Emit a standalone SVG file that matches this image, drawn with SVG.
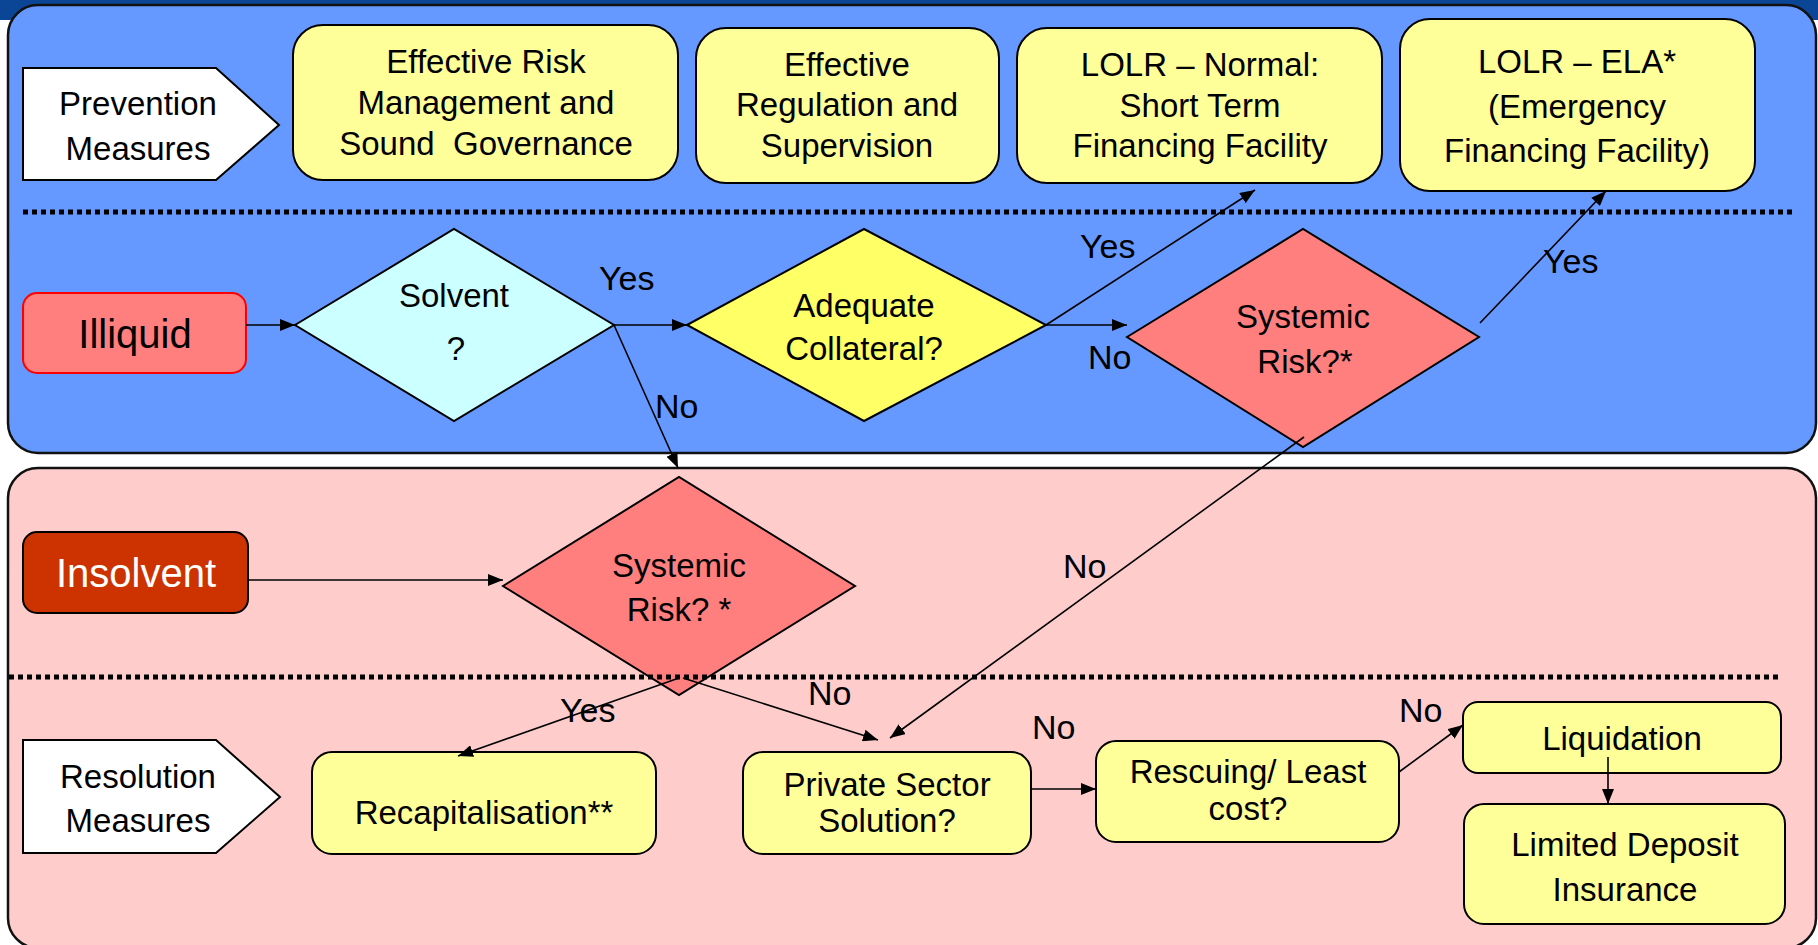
<svg xmlns="http://www.w3.org/2000/svg" width="1818" height="945" viewBox="0 0 1818 945">
<style>
text{font-family:"Liberation Sans",Arial,sans-serif;font-size:33px;fill:#000;text-anchor:middle}
.lbl{text-anchor:start;font-size:34px}
.big{font-size:40px}
.box{fill:#FFFF99;stroke:#000;stroke-width:2}
.pent{fill:#FFFFFF;stroke:#000;stroke-width:2}
.dia{stroke:#000;stroke-width:2}
.div{stroke:#000;stroke-width:5;stroke-dasharray:5 4;fill:none}
.con{stroke:#000;stroke-width:1.6;fill:none;marker-end:url(#ah)}
</style>
<defs>
<marker id="ah" markerUnits="userSpaceOnUse" markerWidth="16" markerHeight="12" refX="15" refY="6" orient="auto">
<path d="M0,0 L15,6 L0,12 z" fill="#000"/>
</marker>
</defs>
<rect x="0" y="0" width="1818" height="945" fill="#FFFFFF"/>
<rect x="0" y="0" width="1818" height="20" fill="#0B4595"/>
<g id="panels">
<rect id="panel-prevention" x="8" y="5" width="1808" height="448" rx="30" fill="#6699FF" stroke="#111" stroke-width="2.5"/>
<rect id="panel-resolution" x="8" y="468" width="1808" height="480" rx="30" fill="#FFCCCC" stroke="#111" stroke-width="2.5"/>
</g>
<g id="nodes">
<g id="prevention-measures"><polygon class="pent" points="23,68 216,68 279,125 216,180 23,180"/><text x="138" y="115">Prevention</text><text x="138" y="160">Measures</text></g>
<g id="risk-management"><rect class="box" x="293" y="25" width="385" height="155" rx="30"/><text x="486" y="73">Effective Risk</text><text x="486" y="114">Management and</text><text x="486" y="155">Sound&#160; Governance</text></g>
<g id="regulation"><rect class="box" x="696" y="28" width="303" height="155" rx="30"/><text x="847" y="76">Effective</text><text x="847" y="116">Regulation and</text><text x="847" y="157">Supervision</text></g>
<g id="lolr-normal"><rect class="box" x="1017" y="28" width="365" height="155" rx="30"/><text x="1200" y="76">LOLR – Normal:</text><text x="1200" y="117">Short Term</text><text x="1200" y="157">Financing Facility</text></g>
<g id="lolr-ela"><rect class="box" x="1400" y="19" width="355" height="172" rx="30"/><text x="1577" y="73">LOLR – ELA*</text><text x="1577" y="118">(Emergency</text><text x="1577" y="162">Financing Facility)</text></g>
<g id="illiquid"><rect x="23" y="293" width="223" height="80" rx="14" fill="#FF7F7F" stroke="#FF0000" stroke-width="2"/><text class="big" x="135" y="348">Illiquid</text></g>
<g id="solvent"><polygon class="dia" fill="#CCFFFF" points="295,325 454,229 614,325 454,421"/><text x="454" y="307">Solvent</text><text x="456" y="360">?</text></g>
<g id="adequate-collateral"><polygon class="dia" fill="#FFFF66" points="687,325 864,229 1046,325 864,421"/><text x="864" y="317">Adequate</text><text x="864" y="360">Collateral?</text></g>
<g id="systemic-risk-illiquid"><polygon class="dia" fill="#FF7F7F" points="1127,337 1303,229 1479,337 1303,447"/><text x="1303" y="328">Systemic</text><text x="1305" y="373">Risk?*</text></g>
<g id="insolvent"><rect x="23" y="532" width="225" height="81" rx="14" fill="#CC3300" stroke="#000" stroke-width="2"/><text class="big" x="136" y="587" style="fill:#FFFFFF">Insolvent</text></g>
<g id="systemic-risk-insolvent"><polygon class="dia" fill="#FF7F7F" points="503,586 679,477 855,586 679,695"/><text x="679" y="577">Systemic</text><text x="679" y="621">Risk? *</text></g>
<g id="resolution-measures"><polygon class="pent" points="23,740 216,740 280,797 216,853 23,853"/><text x="138" y="788">Resolution</text><text x="138" y="832">Measures</text></g>
<g id="recapitalisation"><rect class="box" x="312" y="752" width="344" height="102" rx="20"/><text x="484" y="824">Recapitalisation**</text></g>
<g id="private-sector"><rect class="box" x="743" y="752" width="288" height="102" rx="20"/><text x="887" y="796">Private Sector</text><text x="887" y="832">Solution?</text></g>
<g id="rescuing"><rect class="box" x="1096" y="741" width="303" height="101" rx="20"/><text x="1248" y="783">Rescuing/ Least</text><text x="1248" y="820">cost?</text></g>
<g id="liquidation"><rect class="box" x="1463" y="702" width="318" height="71" rx="15"/><text x="1622" y="750">Liquidation</text></g>
<g id="limited-deposit"><rect class="box" x="1464" y="804" width="321" height="120" rx="20"/><text x="1625" y="856">Limited Deposit</text><text x="1625" y="901">Insurance</text></g>
</g>
<g id="dividers">
<line class="div" x1="23" y1="212" x2="1794" y2="212"/>
<line class="div" x1="9" y1="677" x2="1780" y2="677"/>
</g>
<g id="connectors">
<line class="con" x1="246" y1="325" x2="295" y2="325"/>
<line class="con" x1="614" y1="325" x2="687" y2="325"/>
<line class="con" x1="614" y1="325" x2="678" y2="468"/>
<line class="con" x1="1046" y1="325" x2="1255" y2="190"/>
<line class="con" x1="1046" y1="325" x2="1127" y2="325"/>
<line class="con" x1="1480" y1="323" x2="1606" y2="191"/>
<line class="con" x1="1304" y1="437" x2="890" y2="738"/>
<line class="con" x1="248" y1="580" x2="503" y2="580"/>
<line class="con" x1="679" y1="678" x2="458" y2="756"/>
<line class="con" x1="683" y1="678" x2="878" y2="740"/>
<line class="con" x1="1031" y1="789" x2="1096" y2="789"/>
<line class="con" x1="1399" y1="772" x2="1463" y2="725"/>
<line class="con" x1="1608" y1="757" x2="1608" y2="804"/>
<text class="lbl" x="599" y="290">Yes</text>
<text class="lbl" x="655" y="418">No</text>
<text class="lbl" x="1080" y="258">Yes</text>
<text class="lbl" x="1088" y="369">No</text>
<text class="lbl" x="1543" y="273">Yes</text>
<text class="lbl" x="1063" y="578">No</text>
<text class="lbl" x="560" y="722">Yes</text>
<text class="lbl" x="808" y="705">No</text>
<text class="lbl" x="1032" y="739">No</text>
<text class="lbl" x="1399" y="722">No</text>
</g>
</svg>
